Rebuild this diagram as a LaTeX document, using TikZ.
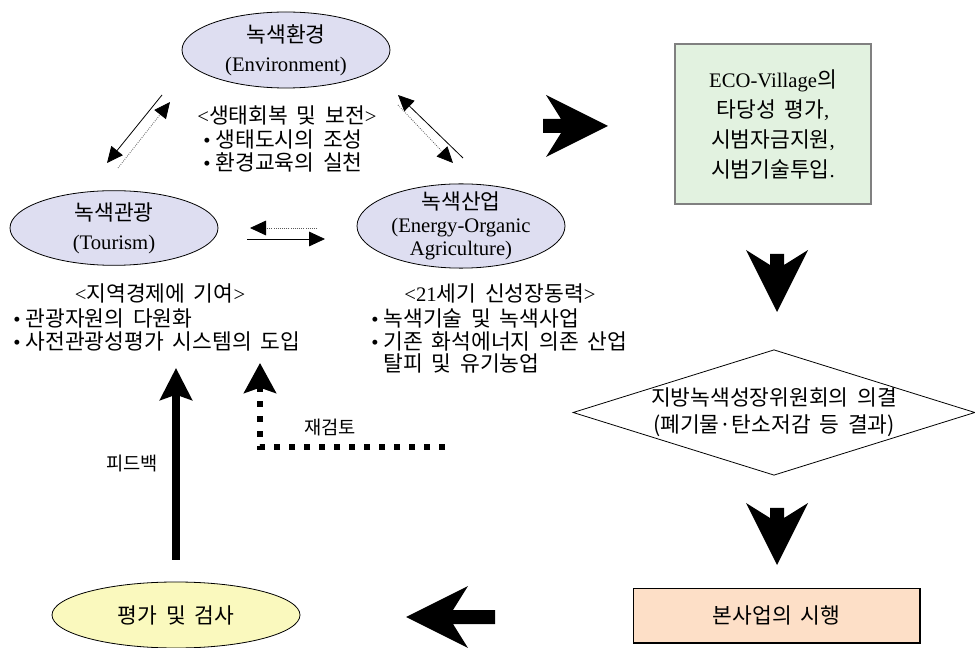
\documentclass[tikz,border=0pt]{standalone}
\usepackage{fontspec}
\setmainfont{Liberation Serif}
\newfontfamily\kr[Scale=1.04, WordSpace=1.8]{Noto Sans CJK KR}
\usepackage{tikz}
\usetikzlibrary{arrows.meta, shapes.geometric, positioning, calc}
\definecolor{lavender}{RGB}{222,222,241}
\definecolor{ecogreen}{RGB}{226,242,224}
\definecolor{peach}{RGB}{253,223,199}
\definecolor{lemon}{RGB}{250,249,190}
% block arrow: base point, rotation, shaft start
\newcommand{\blockarrow}[3]{\fill[shift={(#1)}, rotate=#2] (0,-31) -- (62,0) -- (0,31) -- (15,7) -- (#3,7) -- (#3,-7) -- (15,-7) -- cycle;}

\begin{document}
\begin{tikzpicture}[x=0.75pt, y=-0.75pt,
		font=\fontsize{15.5pt}{17pt}\selectfont,
		every node/.style={inner sep=0pt},
		oval/.style={ellipse, draw, line width=0.6pt, fill=lavender, align=center, font=\fontsize{15.5pt}{22pt}\selectfont},
		list/.style={align=left, anchor=west},
		small/.style={font=\fontsize{13.5pt}{15pt}\selectfont},
		lnk/.style={line width=0.6pt, -{Triangle[length=12pt,width=11pt]}},
		dotlnk/.style={densely dotted, line width=0.6pt, black!65, -{Triangle[length=12pt,width=11pt,color=black]}},
		fback/.style={line width=6pt, shorten <=16.5pt, -{Stealth[length=24pt,width=24pt,inset=4pt]}},
		rechk/.style={line width=4.5pt, dash pattern=on 4.5pt off 6.75pt, -{Stealth[length=22.5pt,width=24pt,inset=4pt]}}]

	\useasboundingbox (0,0) rectangle (975,648);

	\node[oval, minimum width=156pt, minimum height=57pt] (env) at (286,50) {{\kr 녹색환경}\\(Environment)};
	\node[oval, minimum width=156pt, minimum height=56pt] (tour) at (114,228) {{\kr 녹색관광}\\(Tourism)};
	\node[oval, minimum width=156pt, minimum height=63pt, inner ysep=-3pt,
		font=\fontsize{15.5pt}{17pt}\selectfont] (ind) at (461,226) {{\kr 녹색산업}\\(Energy-Organic\\Agriculture)};

	\node (envhead) at (287,115) {<{\kr 생태회복 및 보전}>};
	\node[list] (envlist) at (203,151) {\textbullet\ {\kr 생태도시의 조성}\\\textbullet\ {\kr 환경교육의 실천}};
	\node (tourhead) at (160,293) {<{\kr 지역경제에 기여}>};
	\node[list] (tourlist) at (13,330) {\textbullet\ {\kr 관광자원의 다원화}\\\textbullet\ {\kr 사전관광성평가 시스템의 도입}};
	\node (indhead) at (500,293) {<21{\kr 세기 신성장동력}>};
	\node[list] (indlist) at (371,341) {\textbullet\ {\kr 녹색기술 및 녹색사업}\\\textbullet\ {\kr 기존 화석에너지 의존 산업}\\\hphantom{\textbullet\ }{\kr 탈피 및 유기농업}};

	\node[draw=gray, line width=1.2pt, fill=ecogreen, minimum width=147pt, minimum height=120pt, align=center,
		font=\fontsize{15.5pt}{22.5pt}\selectfont] (eco) at (773,124)
		{ECO-Village{\kr 의}\\{\kr 타당성 평가},\\{\kr 시범자금지원},\\{\kr 시범기술투입}.};
	\node[diamond, draw, line width=0.6pt, aspect=3.2, minimum width=301.5pt, minimum height=93.75pt, align=center,
		font=\fontsize{15.5pt}{20pt}\selectfont] (decide) at (774,412.5)
		{{\kr 지방녹색성장위원회의 의결}\\{\kr (폐기물·탄소저감 등 결과)}};
	\node[draw, line width=1pt, fill=peach, minimum width=215pt, minimum height=41pt] (enact) at (776.5,615.5) {{\kr 본사업의 시행}};
	\node[oval, fill=lemon, minimum width=186pt, minimum height=49.5pt] (eval) at (176,615) {{\kr 평가 및 검사}};

	% links between the three ovals
	\coordinate (tl1) at (162,95);  \coordinate (tl2) at (107,163);
	\coordinate (tl3) at (118,168); \coordinate (tl4) at (170,102);
	\coordinate (tr1) at (463,158); \coordinate (tr2) at (398,95);
	\coordinate (tr3) at (398,105); \coordinate (tr4) at (453,163);
	\coordinate (md1) at (317,228); \coordinate (md2) at (250,228);
	\coordinate (md3) at (247,239); \coordinate (md4) at (325,239);
	\draw[lnk] (tl1) -- (tl2);
	\draw[dotlnk] (tl3) -- (tl4);
	\draw[lnk] (tr1) -- (tr2);
	\draw[dotlnk] (tr3) -- (tr4);
	\draw[dotlnk] (md1) -- (md2);
	\draw[lnk] (md3) -- (md4);

	\blockarrow{546,126}{0}{-3}
	\blockarrow{777,250}{-90}{4}
	\blockarrow{777,503}{-90}{5}
	\blockarrow{468,617}{180}{-27}

	\coordinate (fbtip) at (176,368);
	\draw[fback] (eval.north) -- (fbtip);
	\node[small, anchor=east] (fblabel) at (158,463) {{\kr 피드백}};

	\coordinate (rcstart) at (445,447);
	\coordinate (rctip) at (260,363);
	\draw[rechk] (rcstart) -- (rcstart -| rctip) -- (rctip);
	\node[small] (rclabel) at (330,427) {{\kr 재검토}};
\end{tikzpicture}
\end{document}
